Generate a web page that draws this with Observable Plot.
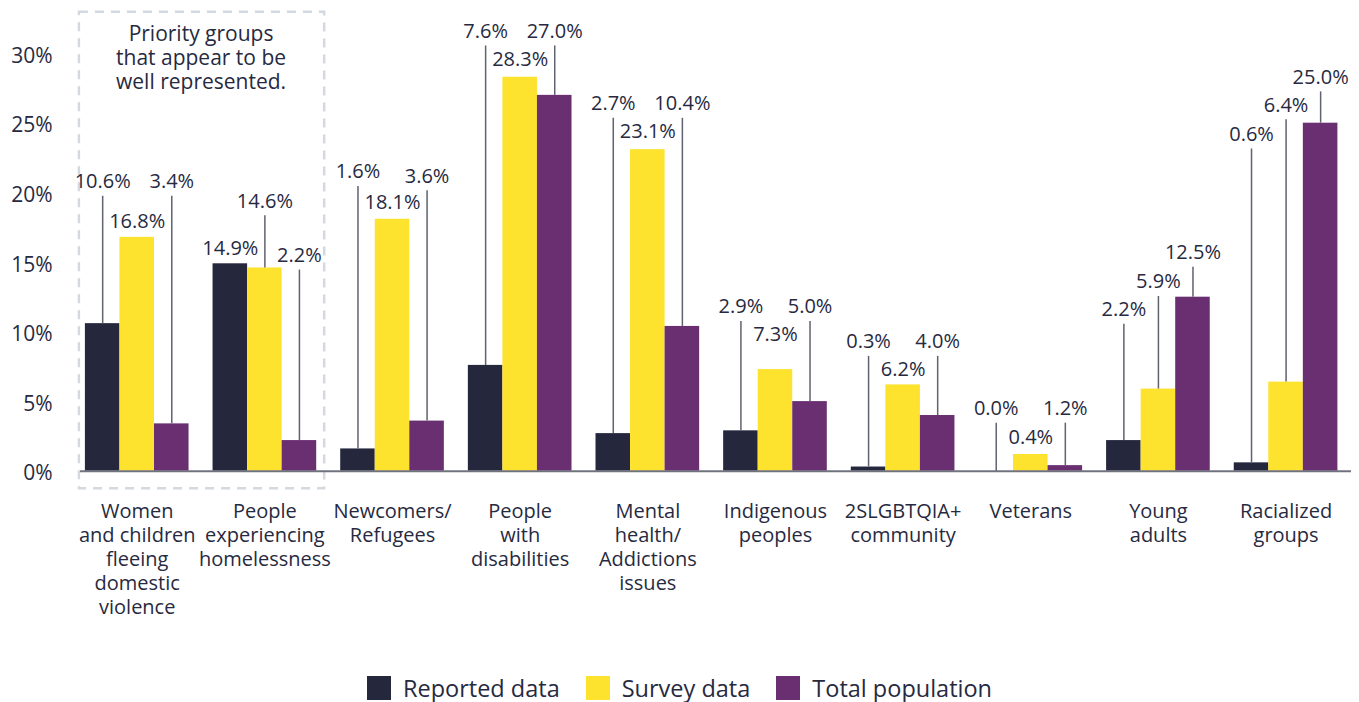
<!DOCTYPE html>
<html>
<head>
<meta charset="utf-8">
<script src="https://cdn.jsdelivr.net/npm/d3@7"></script>
<script src="https://cdn.jsdelivr.net/npm/@observablehq/plot@0.6"></script>
<style>
  html, body { margin: 0; padding: 0; background: #ffffff; }
  body { position: relative; width: 1359px; height: 702px; overflow: hidden; font-family: "Open Sans", sans-serif; color: #272a3f; }
  #legend { position: absolute; left: 0; top: 675px; width: 1359px; height: 26px; display: flex; justify-content: center; align-items: center; font-size: 23.5px; line-height: 26px; }
  #legend .item { display: flex; align-items: center; margin: 0 13px; }
  #legend .sw { width: 24px; height: 24px; margin-right: 12px; }
</style>
</head>
<body>
<div id="chart"></div>
<div id="legend"></div>
<script>
// ---- Data ----
const categories = [
  "Women\nand children\nfleeing\ndomestic\nviolence",
  "People\nexperiencing\nhomelessness",
  "Newcomers/\nRefugees",
  "People\nwith\ndisabilities",
  "Mental\nhealth/\nAddictions\nissues",
  "Indigenous\npeoples",
  "2SLGBTQIA+\ncommunity",
  "Veterans",
  "Young\nadults",
  "Racialized\ngroups"
];
const seriesNames = ["Reported data", "Survey data", "Total population"];

const reported = [10.6, 14.9, 1.6, 7.6, 2.7, 2.9, 0.3, 0.0, 2.2, 0.6];
const survey   = [16.8, 14.6, 18.1, 28.3, 23.1, 7.3, 6.2, 1.2, 5.9, 6.4];
const total    = [3.4, 2.2, 3.6, 27.0, 10.4, 5.0, 4.0, 0.4, 12.5, 25.0];

const reportedLabels = ["10.6%", "14.9%", "1.6%", "7.6%", "2.7%", "2.9%", "0.3%", "0.0%", "2.2%", "0.6%"];
const surveyLabels   = ["16.8%", "14.6%", "18.1%", "28.3%", "23.1%", "7.3%", "6.2%", "0.4%", "5.9%", "6.4%"];
const totalLabels    = ["3.4%", "2.2%", "3.6%", "27.0%", "10.4%", "5.0%", "4.0%", "1.2%", "12.5%", "25.0%"];

// label heights (in % units of the y scale)
const reportedLabelY = [20.8, 16.0, 21.5, 31.6, 26.4, 11.8, 9.3, 4.5, 11.6, 24.2];
const surveyLabelY   = [17.9, 19.4, 19.3, 29.6, 24.4, 9.8, 7.3, 2.4, 13.6, 26.3];
const totalLabelY    = [20.8, 15.5, 21.2, 31.6, 26.4, 11.8, 9.3, 4.5, 15.7, 28.3];

const yTicks = [0, 5, 10, 15, 20, 25, 30];
const boxNote = "Priority groups\nthat appear to be\nwell represented.";
const colors = ["#25283d", "#fde22e", "#692f71"];

// ---- Build table ----
const seriesVals = [reported, survey, total];
const seriesLabels = [reportedLabels, surveyLabels, totalLabels];
const seriesLabelY = [reportedLabelY, surveyLabelY, totalLabelY];
const rows = [];
seriesVals.forEach((vals, s) => vals.forEach((v, i) => rows.push({
  category: categories[i], series: s, value: v,
  label: seriesLabels[s][i], labelY: seriesLabelY[s][i]
})));

// ---- Layout ----
const W = 1359, H = 650;
const xr0 = 84.9, xr1 = 1337.4, padIn = 0.188;
const step = (xr1 - xr0) / (categories.length - padIn);
const bw = step * (1 - padIn);
const barW = bw / 3;
const ink = "#272a3f";

const marks = [];
for (let s = 0; s < 3; s++) {
  marks.push(Plot.barY(rows.filter(r => r.series === s), {
    x: "category", y: "value", fill: colors[s],
    insetLeft: s * barW, insetRight: (2 - s) * barW
  }));
}
marks.push(Plot.ruleY([0], {stroke: "#70727f", strokeWidth: 2}));
for (let s = 0; s < 3; s++) {
  marks.push(Plot.ruleX(rows.filter(r => r.series === s && r.labelY - r.value > 3), {
    x: "category", y1: "value", y2: r => r.labelY - 1.05,
    dx: (s - 1) * barW, stroke: "#5f6270", strokeWidth: 1.5
  }));
  marks.push(Plot.text(rows.filter(r => r.series === s), {
    x: "category", y: "labelY", text: "label", dx: (s - 1) * barW,
    fontSize: 20, fill: ink, lineAnchor: "middle"
  }));
}
// x category labels
marks.push(Plot.text(categories, {
  x: d => d, y: d => 0, text: d => d, dy: 30, lineAnchor: "top",
  fontSize: 20, lineHeight: 1.2, fill: ink
}));
// note inside box
marks.push(Plot.text([boxNote], {
  x: () => categories[0], y: () => 29.74, text: d => d, dx: step / 2,
  lineAnchor: "middle", fontSize: 21, lineHeight: 1.14, fill: ink
}));
marks.push(Plot.axisY({
  ticks: yTicks, tickFormat: d => d + "%", tickSize: 0, tickPadding: 28,
  fontSize: 21, fill: ink, dy: 2.5, label: null
}));

const plot = Plot.plot({
  width: W, height: H,
  marginLeft: 80, marginRight: 8, marginTop: 0, marginBottom: 0,
  style: {fontFamily: "'Open Sans', sans-serif", color: ink, background: "#ffffff", overflow: "visible"},
  x: {type: "band", domain: categories, range: [xr0, xr1], paddingInner: padIn, paddingOuter: 0, round: false, axis: null},
  y: {domain: [0, 30], range: [470.7, 53.1], axis: null},
  marks
});
document.getElementById("chart").appendChild(plot);

// dashed box around the first two groups, positioned with the plot's scales
const sx = plot.scale("x"), sy = plot.scale("y");
const bx0 = sx.apply(categories[0]) - 6;
const bx1 = sx.apply(categories[1]) + sx.bandwidth + 8;
const by0 = sy.apply(32.97), by1 = sy.apply(-1.26);
d3.select(plot).insert("rect", ":first-child")
  .attr("x", bx0).attr("y", by0).attr("width", bx1 - bx0).attr("height", by1 - by0)
  .attr("fill", "none").attr("stroke", "#d3d9de").attr("stroke-width", 2.5)
  .attr("stroke-dasharray", "9,7");

// legend
const legend = d3.select("#legend");
seriesNames.forEach((name, s) => {
  const it = legend.append("div").attr("class", "item");
  it.append("div").attr("class", "sw").style("background", colors[s]);
  it.append("span").text(name);
});
</script>
</body>
</html>
